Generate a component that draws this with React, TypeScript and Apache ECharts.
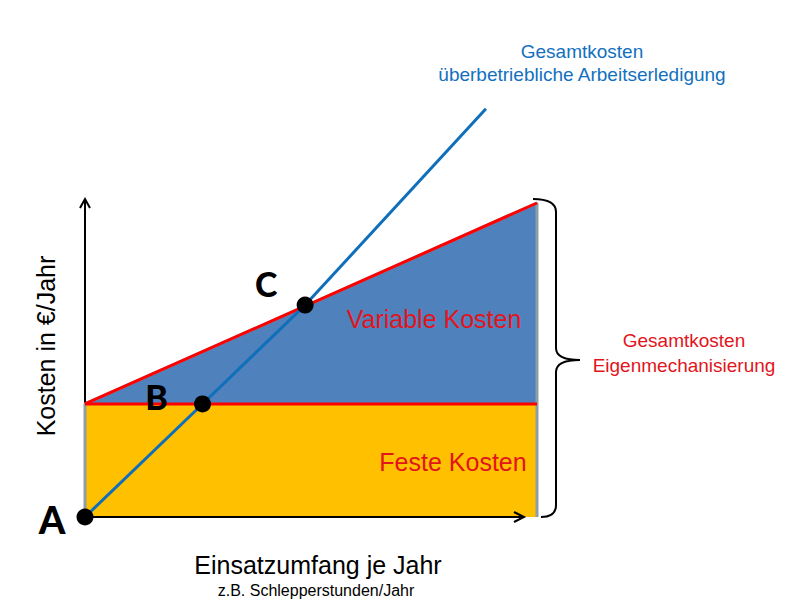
import React, { useEffect, useRef } from "react";
import * as echarts from "echarts";

// Conceptual cost chart (x: Einsatzumfang 0..100, y: Kosten 0..130)
const volumeRange = [0, 100];
const fixedCost = 36;
const totalCostEnd = 100; // total own-mechanisation cost at x = 100
const contractorX = [0, 26, 48.7, 88.7];
const contractorY = [0, 36, 67.5, 130];
const pointNames = ["A", "B", "C"];
const pointX = [0, 26, 48.7];
const pointY = [0, 36, 67.5];

const FONT = "'Liberation Sans', Arial, sans-serif";
const RED = "#ff0000";
const RED_TEXT = "#e2141c";
const BLUE_LINE = "#0f6fba";
const BLUE_TEXT = "#1270be";

// axis frame (pixels)
const AX_LEFT = 85;
const AX_BOTTOM = 517;
const AX_TOP = 199;
const AX_RIGHT = 524;

export default function App() {
  const ref = useRef<HTMLDivElement>(null);

  useEffect(() => {
    if (!ref.current) return;
    const bracePath =
      "M533,199 Q556,199 556,212 L556,348 Q556,360 580,360 Q556,360 556,372 L556,505 Q556,517 541,517";
    echarts.graphic.registerShape("brace", echarts.graphic.extendPath(bracePath, {}) as any);
    const chart = echarts.init(ref.current, null, { renderer: "svg" });

    const fixedData = volumeRange.map((x) => [x, fixedCost]);
    const totalData = volumeRange.map((x) => [x, fixedCost + ((totalCostEnd - fixedCost) * (x - volumeRange[0])) / (volumeRange[1] - volumeRange[0])]);
    const outline = [
      [volumeRange[0], 0],
      [volumeRange[0], fixedCost],
      [volumeRange[1], totalCostEnd],
      [volumeRange[1], 0],
    ];
    const contractor = contractorX.map((x, i) => [x, contractorY[i]]);
    const labelOffsets = [
      [-33, 2],
      [-46, -7],
      [-39, -22],
    ];
    const points = pointX.map((x, i) => ({
      value: [x, pointY[i]],
      name: pointNames[i],
      label: {
        show: true,
        formatter: pointNames[i],
        position: "inside",
        offset: labelOffsets[i],
        color: "#000",
        fontFamily: "Lato, sans-serif",
        fontWeight: 900,
        fontSize: i === 0 ? 38 : 34,
      },
    }));

    const hiddenAxis = {
      axisLine: { show: false }, axisTick: { show: false }, axisLabel: { show: false }, splitLine: { show: false },
    };

    const axisStyle = { stroke: "#000", lineWidth: 2, fill: "none" };

    chart.setOption({
      animation: false,
      grid: [{ left: 85, top: 517 - 130 * 3.14, width: 452, height: 130 * 3.14 }],
      xAxis: [{ type: "value", min: volumeRange[0], max: volumeRange[1], ...hiddenAxis }],
      yAxis: [{ type: "value", min: 0, max: 130, ...hiddenAxis }],
      series: [
        {
          type: "line", data: totalData, symbol: "none",
          lineStyle: { width: 0 }, areaStyle: { color: "#4f81bd", opacity: 1 }, z: 1,
        },
        {
          type: "line", data: fixedData, symbol: "none",
          lineStyle: { width: 0 }, areaStyle: { color: "#ffc000", opacity: 1 }, z: 1,
        },
        {
          type: "line", data: outline, symbol: "none",
          lineStyle: { color: "#8c9ea6", width: 3 }, z: 2,
        },
        {
          type: "line", data: totalData, symbol: "none",
          lineStyle: { color: RED, width: 3 }, z: 3,
        },
        {
          type: "line", data: fixedData, symbol: "none",
          lineStyle: { color: RED, width: 3 }, z: 3,
        },
        {
          type: "line", data: contractor, symbol: "none", clip: false,
          lineStyle: { color: BLUE_LINE, width: 3 }, z: 4,
        },
        {
          type: "scatter", data: points, symbolSize: 17,
          itemStyle: { color: "#000", opacity: 1 }, z: 5, clip: false,
        },
      ],
      graphic: [
        // axes with open arrow heads
        { type: "line", z: 0, shape: { x1: AX_LEFT, y1: AX_BOTTOM, x2: AX_LEFT, y2: AX_TOP }, style: axisStyle },
        { type: "line", z: 50, shape: { x1: AX_LEFT, y1: AX_BOTTOM, x2: AX_RIGHT, y2: AX_BOTTOM }, style: axisStyle },
        { type: "polyline", z: 50, shape: { points: [[AX_LEFT - 5, AX_TOP + 9], [AX_LEFT, AX_TOP], [AX_LEFT + 5, AX_TOP + 9]] }, style: axisStyle },
        { type: "polyline", z: 50, shape: { points: [[AX_RIGHT - 10, AX_BOTTOM - 5], [AX_RIGHT, AX_BOTTOM], [AX_RIGHT - 10, AX_BOTTOM + 5]] }, style: axisStyle },
        { type: "brace", x: 0, y: 0, z: 100, style: { stroke: "#000", lineWidth: 2, fill: "none" } },
        {
          type: "text", x: 46, y: 346, rotation: Math.PI / 2, z: 100,
          style: { text: "Kosten in €/Jahr", font: `25px ${FONT}`, fill: "#000", align: "center", verticalAlign: "middle" },
        },
        {
          type: "text", x: 318, y: 565, z: 100,
          style: { text: "Einsatzumfang je Jahr", font: `25px ${FONT}`, fill: "#000", align: "center", verticalAlign: "middle" },
        },
        {
          type: "text", x: 316, y: 590, z: 100,
          style: { text: "z.B. Schlepperstunden/Jahr", font: `16px ${FONT}`, fill: "#000", align: "center", verticalAlign: "middle" },
        },
        {
          type: "text", x: 434, y: 319, z: 100,
          style: { text: "Variable Kosten", font: `25px ${FONT}`, fill: RED_TEXT, align: "center", verticalAlign: "middle" },
        },
        {
          type: "text", x: 453, y: 462, z: 100,
          style: { text: "Feste Kosten", font: `25px ${FONT}`, fill: RED_TEXT, align: "center", verticalAlign: "middle" },
        },
        {
          type: "text", x: 684, y: 353, z: 100,
          style: { text: "Gesamtkosten\nEigenmechanisierung", font: `19px ${FONT}`, lineHeight: 25, fill: RED_TEXT, align: "center", verticalAlign: "middle" },
        },
        {
          type: "text", x: 582, y: 63, z: 100,
          style: { text: "Gesamtkosten\nüberbetriebliche Arbeitserledigung", font: `19px ${FONT}`, lineHeight: 23, fill: BLUE_TEXT, align: "center", verticalAlign: "middle" },
        },
      ],
    });
    return () => chart.dispose();
  }, []);

  return <div ref={ref} style={{ width: 795, height: 613, position: "absolute", left: 0, top: 0, background: "#fff" }} />;
}
